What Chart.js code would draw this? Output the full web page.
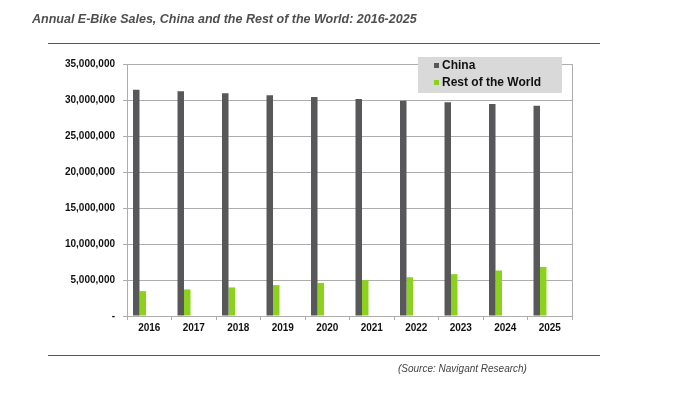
<!DOCTYPE html>
<html>
<head>
<meta charset="utf-8">
<script src="https://cdn.jsdelivr.net/npm/chart.js@4"></script>
<style>
  body { margin: 0; background: #fff; }
  #wrap { position: relative; width: 698px; height: 393px; font-family: "Liberation Sans", Arial, sans-serif; }
  #myChart { position: absolute; left: 0; top: 0; }
  .title { position: absolute; left: 32px; top: 12px; font-size: 12.5px; font-weight: bold; font-style: italic; color: #4f4f4f; white-space: nowrap; }
  .rule { position: absolute; left: 48px; width: 552px; height: 0; border-top: 1px solid #555; }
  .source { position: absolute; left: 398px; top: 363px; font-size: 10px; font-style: italic; color: #444; white-space: nowrap; }
</style>
</head>
<body>
<div id="wrap">
  <canvas id="myChart" width="698" height="393"></canvas>
  <div class="title">Annual E-Bike Sales, China and the Rest of the World: 2016-2025</div>
  <div class="rule" style="top:43px"></div>
  <div class="rule" style="top:355px"></div>
  <div class="source">(Source: Navigant Research)</div>
</div>
<script>
var years = ['2016', '2017', '2018', '2019', '2020', '2021', '2022', '2023', '2024', '2025'];
var chinaSales = [31430000, 31200000, 30930000, 30650000, 30420000, 30140000, 29900000, 29680000, 29450000, 29210000];
var restOfWorldSales = [3460000, 3690000, 3970000, 4290000, 4600000, 4980000, 5390000, 5810000, 6320000, 6820000];
var seriesNames = ['China', 'Rest of the World'];
var yTicks = [0, 5000000, 10000000, 15000000, 20000000, 25000000, 30000000, 35000000];

var fontFamily = '"Liberation Sans", Arial, sans-serif';
var gridColor = '#adadad';

// the source chart leaves room for three more (empty) series in each group
var datasets = [
  { label: seriesNames[0], data: chinaSales, backgroundColor: '#58585a' },
  { label: seriesNames[1], data: restOfWorldSales, backgroundColor: '#8dd11f' }
];
for (var i = 0; i < 3; i++) {
  datasets.push({ label: '', data: [], backgroundColor: 'rgba(0,0,0,0)' });
}

// grey frame round the plot area
var frame = {
  id: 'frame',
  beforeDatasetsDraw: function(chart) {
    var a = chart.chartArea, c = chart.ctx;
    c.save();
    c.strokeStyle = gridColor;
    c.lineWidth = 1;
    c.strokeRect(Math.round(a.left) + 0.5, Math.round(a.top) + 0.5, Math.round(a.right - a.left), Math.round(a.bottom - a.top));
    c.restore();
  }
};

// legend box sits over the top of the plot, like the original
var boxLegend = {
  id: 'boxLegend',
  afterDraw: function(chart) {
    var c = chart.ctx;
    c.save();
    c.fillStyle = '#d9d9d9';
    c.fillRect(418, 57, 144, 36);
    c.font = 'bold 12px ' + fontFamily;
    c.textBaseline = 'middle';
    var rows = [66, 83];
    chart.data.datasets.forEach(function(ds, k) {
      if (!ds.label) return;
      c.fillStyle = ds.backgroundColor;
      c.fillRect(434, rows[k] - 3, 5, 5);
      c.fillStyle = '#111';
      c.fillText(ds.label, 442, rows[k]);
    });
    c.restore();
  }
};

var ctx = document.getElementById('myChart').getContext('2d');
var chart = new Chart(ctx, {
  type: 'bar',
  data: { labels: years, datasets: datasets },
  options: {
    responsive: false,
    animation: false,
    layout: { padding: { top: 64, right: 126, left: 0, bottom: 0 } },
    datasets: { bar: { categoryPercentage: 0.73, barPercentage: 1.0 } },
    plugins: { legend: { display: false }, title: { display: false }, tooltip: { enabled: false } },
    scales: {
      x: {
        afterFit: function(s) { s.height = 77; },
        grid: { drawOnChartArea: false, drawTicks: true, tickLength: 4, color: gridColor, offset: true },
        border: { color: gridColor },
        ticks: { color: '#111', padding: 2, font: { family: fontFamily, size: 10, weight: 'bold' } }
      },
      y: {
        min: 0,
        max: 35000000,
        afterFit: function(s) { s.width = 127; },
        afterBuildTicks: function(s) { s.ticks = yTicks.map(function(v) { return { value: v }; }); },
        grid: { color: gridColor, tickLength: 4 },
        border: { color: gridColor },
        ticks: {
          color: '#111',
          padding: 8,
          font: { family: fontFamily, size: 10, weight: 'bold' },
          callback: function(v) { return v === 0 ? '-' : v.toLocaleString('en-US'); }
        }
      }
    }
  },
  plugins: [frame, boxLegend]
});
</script>
</body>
</html>
